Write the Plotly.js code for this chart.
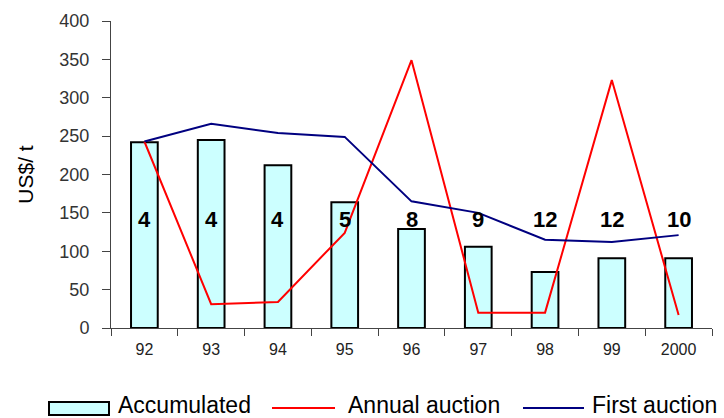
<!DOCTYPE html>
<html>
<head>
<meta charset="utf-8">
<script src="https://cdn.plot.ly/plotly-3.0.1.min.js"></script>
<style>html,body{margin:0;padding:0;background:#fff;}#chart{width:724px;height:418px;}</style>
</head>
<body>
<div id="chart"></div>
<script>
const years = ["92","93","94","95","96","97","98","99","2000"];
const accumulated = [242, 245, 212, 164, 129, 106, 73, 91, 91];
const annualAuction = [243, 31, 34, 124, 349, 20, 20, 323, 17];
const firstAuction = [243, 266, 254, 249, 165, 150, 115, 112, 121];
const counts = ["4","4","4","5","8","9","12","12","10"];

const L = 111, R = 712, T = 21, B = 328;
const px = x => (x - L) / (R - L);
const py = y => (B - y) / (B - T);

const traces = [
  {type:'bar', x: years, y: accumulated, name:'Accumulated', width:0.4,
   marker:{color:'#CCFFFF', line:{color:'#000000', width:2}}, showlegend:false, hoverinfo:'x+y'},
  {type:'scatter', mode:'lines', x: years, y: annualAuction, name:'Annual auction',
   line:{color:'#FF0000', width:2}, showlegend:false},
  {type:'scatter', mode:'lines', x: years, y: firstAuction, name:'First auction',
   line:{color:'#000080', width:2}, showlegend:false}
];

const labelY = 141;
const annotations = counts.map((c, i) => ({
  x: i, y: labelY, xref:'x', yref:'y', text: c, showarrow:false,
  font:{family:'Liberation Sans, Arial, sans-serif', size:22, color:'#000', weight:'bold'},
  xanchor:'center', yanchor:'middle'
}));

const legFont = {family:'Liberation Sans, Arial, sans-serif', size:23, color:'#000'};
const legY = py(405);
annotations.push(
  {xref:'paper', yref:'paper', x:px(116), y:legY, text:'Accumulated', showarrow:false, xanchor:'left', yanchor:'middle', font:legFont},
  {xref:'paper', yref:'paper', x:px(346), y:legY, text:'Annual auction', showarrow:false, xanchor:'left', yanchor:'middle', font:legFont},
  {xref:'paper', yref:'paper', x:px(590), y:legY, text:'First auction', showarrow:false, xanchor:'left', yanchor:'middle', font:legFont}
);

const shapes = [
  {type:'rect', xref:'paper', yref:'paper', x0:px(49), x1:px(109), y0:py(402), y1:py(415),
   fillcolor:'#CCFFFF', line:{color:'#000', width:2}},
  {type:'line', xref:'paper', yref:'paper', x0:px(272), x1:px(335), y0:py(408), y1:py(408),
   line:{color:'#FF0000', width:2}},
  {type:'line', xref:'paper', yref:'paper', x0:px(523), x1:px(584), y0:py(408), y1:py(408),
   line:{color:'#000080', width:2}}
];

const layout = {
  width:724, height:418,
  margin:{l:L, r:724-R, t:T, b:418-B, pad:0},
  paper_bgcolor:'#fff', plot_bgcolor:'#fff',
  font:{family:'Liberation Sans, Arial, sans-serif', color:'#222'},
  showlegend:false,
  xaxis:{type:'category', range:[-0.5, years.length-0.5], autorange:false, showgrid:false, zeroline:false, showline:true, linecolor:'#444', linewidth:1,
    ticks:'outside', tickson:'boundaries', ticklen:7, tickcolor:'#444', tickwidth:1,
    tickangle:0, tickfont:{size:16, color:'#222'}, ticklabelstandoff:7, automargin:false},
  yaxis:{range:[0,400], dtick:50, showgrid:false, zeroline:false, showline:true, linecolor:'#444', linewidth:1,
    ticks:'outside', ticklen:8, tickcolor:'#444', tickwidth:1,
    tickfont:{size:18, color:'#333'}, ticklabelstandoff:9, automargin:false,
    title:{text:'US$/ t', font:{size:21, color:'#000'}, standoff:20}},
  bargap:0.6,
  annotations: annotations,
  shapes: shapes
};

Plotly.newPlot('chart', traces, layout, {displayModeBar:false, staticPlot:true});
</script>
</body>
</html>
